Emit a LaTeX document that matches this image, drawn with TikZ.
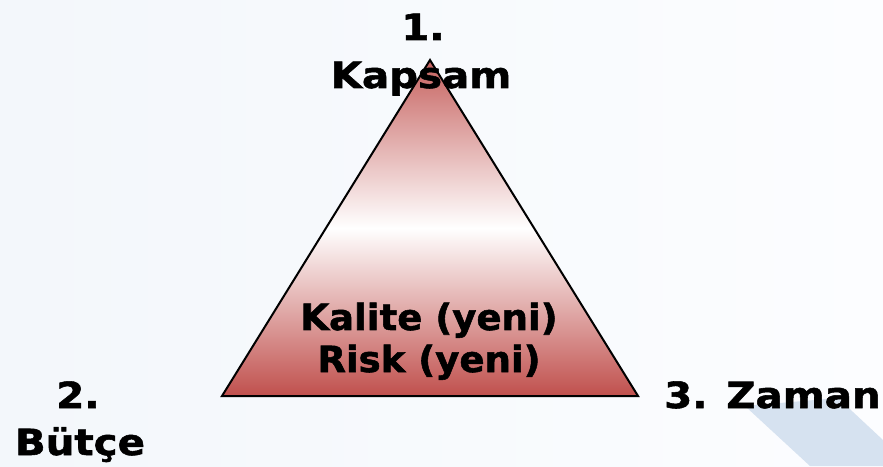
\documentclass[tikz,border=0pt]{standalone}
\usepackage{fontspec}
\setmainfont{DejaVu Sans}
\newfontfamily\lblfont{DejaVu Sans Bold}[FakeStretch=1.12, FakeBold=1.5]
\newfontfamily\inbfont{DejaVu Sans Bold}[FakeStretch=1.03, FakeBold=1.5]
\definecolor{accred}{RGB}{192,80,77}
\definecolor{bgl}{RGB}{243,247,251}
\definecolor{bgr}{RGB}{252,253,255}
\definecolor{band}{RGB}{214,226,240}
\tikzset{
  lbl/.style={font=\lblfont\fontsize{36}{48}\selectfont, inner sep=0pt, text=black},
  inlbl/.style={font=\inbfont\fontsize{36}{48}\selectfont, inner sep=0pt, text=black},
}
\begin{document}
\begin{tikzpicture}[x=1pt,y=1pt]
\useasboundingbox (0,0) rectangle (883,466);
\shade[left color=bgl, right color=bgr] (0,0) rectangle (883,466);
\fill[band] (745,60) -- (810,0) -- (883,0) -- (883,26) -- (838,68) -- cycle;
\coordinate (A) at (430,406);
\coordinate (B) at (222,70);
\coordinate (C) at (638,70);
\shade[top color=accred!90!white, bottom color=accred, middle color=white] (A) -- (B) -- (C) -- cycle;
\draw[line width=2pt, line join=miter] (A) -- (B) -- (C) -- cycle;
\node[lbl, anchor=base] (t1) at (423,426) {1.};
\node[lbl, anchor=base] (t1b) at (421,378) {Kapsam};
\node[inlbl, anchor=base] (q1) at (429,136) {Kalite (yeni)};
\node[inlbl, anchor=base] (q2) at (429,94) {Risk (yeni)};
\node[lbl, anchor=base] (t2) at (78,58) {2.};
\node[lbl, anchor=base] (t2b) at (80,11) {Bütçe};
\node[lbl, anchor=base west] (t3) at (664,58) {3. Zaman};
\end{tikzpicture}
\end{document}
